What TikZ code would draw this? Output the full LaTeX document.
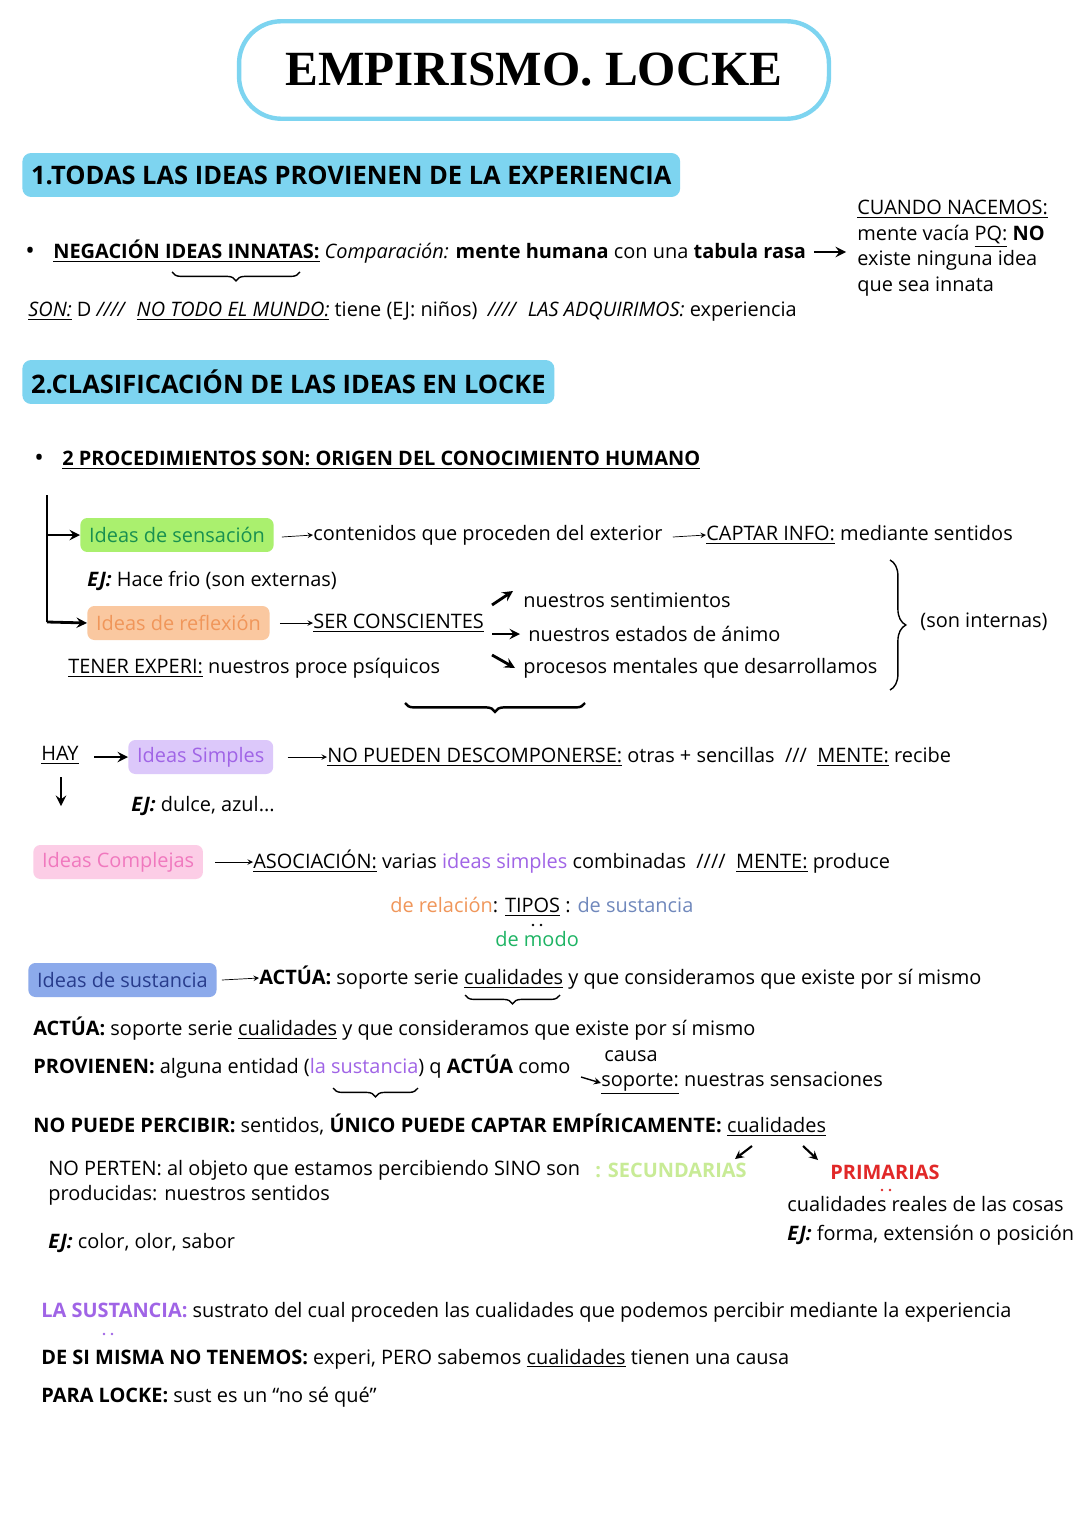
\documentclass[tikz,border=0pt]{standalone}
\usepackage{fontspec}
\setmainfont{Open Sans}
\newfontfamily\titlefont{Liberation Serif}
\usetikzlibrary{arrows, positioning, decorations.pathreplacing}
\definecolor{headcyan}{RGB}{125,212,240}
\definecolor{sensgreen}{RGB}{170,240,110}
\definecolor{reflorange}{RGB}{250,200,160}
\definecolor{reflotext}{RGB}{240,150,90}
\definecolor{simppurple}{RGB}{220,200,250}
\definecolor{simptext}{RGB}{160,100,230}
\definecolor{comppink}{RGB}{252,205,230}
\definecolor{comptext}{RGB}{240,120,190}
\definecolor{sustblue}{RGB}{140,170,235}
\definecolor{susttext}{RGB}{40,60,140}
\definecolor{modgreen}{RGB}{30,180,100}
\definecolor{secgreen}{RGB}{200,235,150}
\definecolor{primred}{RGB}{225,40,40}
\tikzstyle{arrow} = [thick,->,>=stealth]
\tikzstyle{thinarrow} = [->,>=stealth]
\tikzstyle{txt} = [anchor=west, inner sep=0pt, font=\fontsize{11.35}{13}\selectfont]
\tikzstyle{headbox} = [anchor=west, rectangle, rounded corners=5pt, fill=headcyan, inner xsep=5pt, minimum height=0.88cm, font=\fontsize{14.5}{16}\selectfont\bfseries]
\tikzstyle{ideabox} = [anchor=west, rectangle, rounded corners=4pt, minimum height=0.68cm, inner xsep=5pt, font=\fontsize{11.35}{13}\selectfont]
\tikzstyle{ubrace} = [thick, decorate, decoration={brace, mirror, amplitude=5pt}]
\begin{document}
\begin{tikzpicture}[x=0.02cm, y=-0.02cm]
      \useasboundingbox [fill=white] (0,0) rectangle (1080,1527);
      \node (title) [rectangle, rounded corners=24pt, draw=headcyan, line width=2.5pt, minimum width=11.8cm, minimum height=1.95cm, font=\titlefont\fontsize{28}{30}\selectfont\bfseries] at (534,70) {EMPIRISMO. LOCKE};

      % bloque 1
      \node (head1) [headbox] at (22,175) {1.TODAS LAS IDEAS PROVIENEN DE LA EXPERIENCIA};
      \node (bull1) [txt, font=\Large] at (25,253) {\textbullet};
      \node (negacion) [txt] at (53,252) {\textbf{\underline{NEGACIÓN IDEAS INNATAS:}} \textit{Comparación:} \textbf{mente humana} con una \textbf{tabula rasa}};
      \coordinate (nacpoint) at (846,252);
      \draw [arrow, line width=1.6pt] (negacion.east) ++(8,0) -- (nacpoint);
      \node (nacemos) [txt, align=left, anchor=north west, font=\fontsize{11.35}{14.5}\selectfont] at (857,200) {\underline{CUANDO NACEMOS:}\\mente vacía \underline{PQ:} \textbf{NO}\\existe ninguna idea\\que sea innata};
      \draw [ubrace] (172,272) -- (300,272);
      \node (son) [txt] at (28,312) {\textit{\underline{SON:}} D \textit{////} \ \textit{\underline{NO TODO EL MUNDO:}} tiene (EJ: niños) \ \textit{////} \ \textit{LAS ADQUIRIMOS:} experiencia};

      % bloque 2
      \node (head2) [headbox] at (22,382) {2.CLASIFICACIÓN DE LAS IDEAS EN LOCKE};
      \node (bull2) [txt, font=\Large] at (34,460) {\textbullet};
      \node (proced) [txt] at (62,460) {\textbf{\underline{2 PROCEDIMIENTOS SON: ORIGEN DEL CONOCIMIENTO HUMANO}}};

      \node (sensacion) [ideabox, fill=sensgreen, text=modgreen!80!black] at (80,535) {Ideas de sensación};
      \node (reflexion) [ideabox, fill=reflorange, text=reflotext] at (87,623) {Ideas de reflexión};
      \coordinate (treetop) at (47,495);
      \draw [line width=1.4pt] (treetop) -- (47,622);
      \draw [arrow, line width=1.6pt] (47,535) -- (sensacion.west);
      \draw [arrow, line width=1.6pt] (47,622) -- (reflexion.west);
      \node (contenidos) [txt] at (313,535) {contenidos que proceden del exterior};
      \draw [thinarrow] (sensacion.east) ++(8,2) -- (contenidos.west);
      \node (captar) [txt] at (706,535) {\underline{CAPTAR INFO:} mediante sentidos};
      \draw [thinarrow] (contenidos.east) ++(10,2) -- (captar.west);
      \node (ejfrio) [txt] at (87,581) {\textbf{\textit{EJ:}} Hace frio (son externas)};
      \node (conscientes) [txt] at (313,623) {\underline{SER CONSCIENTES}};
      \draw [thinarrow] (reflexion.east) ++(10,0) -- (conscientes.west);
      \node (sentim) [txt] at (523,600) {nuestros sentimientos};
      \node (animo) [txt] at (528,634) {nuestros estados de ánimo};
      \node (procesos) [txt] at (523,668) {procesos mentales que desarrollamos};
      \draw [arrow, line width=1.6pt] (492,605) -- (513,591);
      \draw [arrow, line width=1.6pt] (492,634) -- (520,634);
      \draw [arrow, line width=1.6pt] (492,655) -- (515,668);
      \draw [thick, decorate, decoration={brace, amplitude=9pt}] (890,560) -- (890,690);
      \node (internas) [txt] at (920,622) {(son internas)};
      \node (tener) [txt] at (68,668) {\underline{TENER EXPERI:} nuestros proce psíquicos};
      \draw [ubrace, line width=1.4pt] (405,703) -- (585,703);

      \node (hay) [txt] at (41,755) {\underline{HAY}};
      \node (simples) [ideabox, fill=simppurple, text=simptext] at (128,757) {Ideas Simples};
      \draw [arrow, line width=1.6pt] (hay.east) ++(15,2) -- (simples.west);
      \coordinate (haydown) at (61,806);
      \draw [arrow, line width=1.6pt] (61,777) -- (haydown);
      \node (descomp) [txt] at (327,757) {\underline{NO PUEDEN DESCOMPONERSE:} otras + sencillas \ /// \ \underline{MENTE:} recibe};
      \draw [thinarrow] (simples.east) ++(14,0) -- (descomp.west);
      \node (ejdulce) [txt] at (131,806) {\textbf{\textit{EJ:}} dulce, azul...};

      \node (complejas) [ideabox, fill=comppink, text=comptext] at (33,862) {Ideas Complejas};
      \node (asoc) [txt] at (253,862) {\underline{ASOCIACIÓN:} varias \textcolor{simptext}{ideas simples} combinadas \ //// \ \underline{MENTE:} produce};
      \draw [thinarrow] (complejas.east) ++(12,0) -- (asoc.west);
      \node (tipos) [txt] at (390,907) {\textcolor{reflotext}{de relación}: \underline{TIPOS} : \textcolor{sustblue!80!black}{de sustancia}};
      \node (modo) [txt, text=modgreen] at (495,939) {de modo};
      \fill (533,925) circle (1.3) (541,925) circle (1.3);

      \node (sustancia) [ideabox, fill=sustblue, text=susttext] at (28,980) {Ideas de sustancia};
      \node (actua) [txt] at (259,978) {\textbf{ACTÚA:} soporte serie \underline{cualidades} y que consideramos que existe por sí mismo};
      \draw [thinarrow] (sustancia.east) ++(5,0) -- (actua.west);
      \draw [ubrace] (465,995) -- (560,995);
      \node (actua2) [txt] at (33,1029) {\textbf{ACTÚA:} soporte serie \underline{cualidades} y que consideramos que existe por sí mismo};
      \node (provienen) [txt] at (33,1067) {\textbf{PROVIENEN:} alguna entidad (\textcolor{simptext}{la sustancia}) q \textbf{ACTÚA} como};
      \node (causa) [txt] at (604,1056) {causa};
      \node (soporte) [txt] at (601,1083) {\underline{soporte:} nuestras sensaciones};
      \draw [thinarrow, thick] (581,1077) -- (soporte.west);
      \draw [ubrace] (333,1088) -- (418,1088);

      \node (percibir) [txt] at (33,1125) {\textbf{NO PUEDE PERCIBIR:} sentidos, \textbf{ÚNICO PUEDE CAPTAR EMPÍRICAMENTE:} \underline{cualidades}};
      \node (perten) [txt, align=left, anchor=north west, font=\fontsize{11.35}{14.5}\selectfont] at (48,1160) {NO PERTEN: al objeto que estamos percibiendo SINO son\\producidas: nuestros sentidos};
      \node (secund) [txt, text=secgreen, font=\fontsize{11.35}{13}\selectfont\bfseries] at (595,1170) {: SECUNDARIAS};
      \node (primar) [txt, text=primred, font=\fontsize{11.35}{13}\selectfont\bfseries] at (830,1172) {PRIMARIAS};
      \fill [primred] (882,1190) circle (1.3) (890,1190) circle (1.3);
      \draw [arrow, line width=1.2pt] (752,1146) -- (735,1159);
      \draw [arrow, line width=1.2pt] (803,1146) -- (818,1160);
      \node (reales) [txt] at (787,1204) {cualidades reales de las cosas};
      \node (ejforma) [txt] at (787,1235) {\textbf{\textit{EJ:}} forma, extensión o posición};
      \node (ejcolor) [txt] at (48,1243) {\textbf{\textit{EJ:}} color, olor, sabor};

      \node (lasust) [txt] at (41,1312) {\textcolor{simptext}{\textbf{LA SUSTANCIA:}} sustrato del cual proceden las cualidades que podemos percibir mediante la experiencia};
      \fill [simptext] (104,1334) circle (1.3) (112,1334) circle (1.3);
      \node (desi) [txt] at (41,1359) {\textbf{DE SI MISMA NO TENEMOS:} experi, PERO sabemos \underline{cualidades} tienen una causa};
      \node (paralocke) [txt] at (41,1397) {\textbf{PARA LOCKE:} sust es un “no sé qué”};
    \end{tikzpicture}
\end{document}
